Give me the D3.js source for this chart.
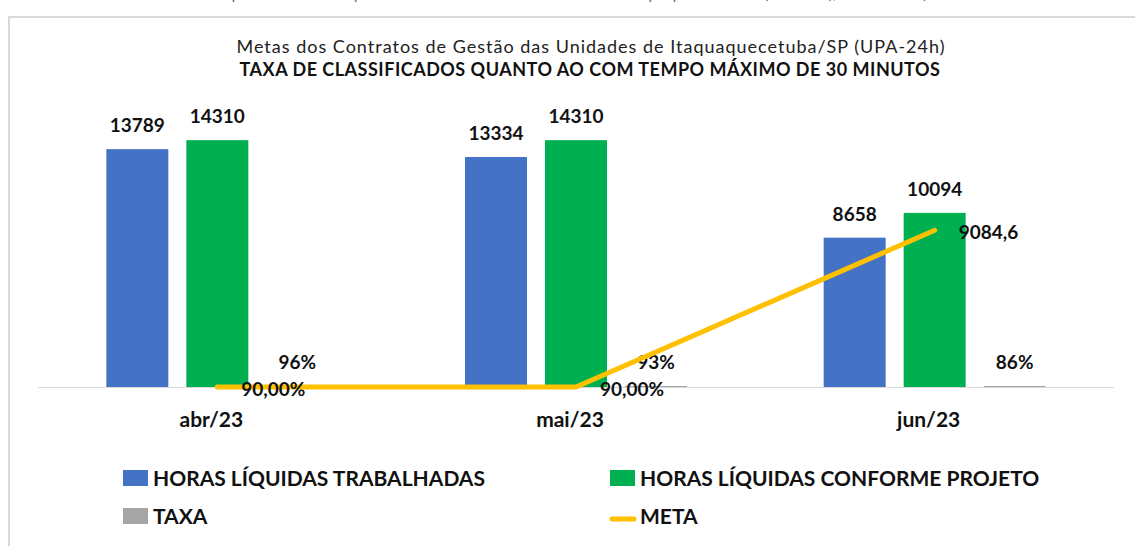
<!DOCTYPE html>
<html>
<head>
<meta charset="utf-8">
<script src="https://cdn.jsdelivr.net/npm/d3@7"></script>
<style>
  body { margin: 0; background: #fff; }
  svg { display: block; font-family: Lato, "Open Sans", sans-serif; }
</style>
</head>
<body>
<svg id="chart" width="1135" height="546"></svg>
<script>
// data
const months = ['abr/23', 'mai/23', 'jun/23'];
const horasTrabalhadas = [13789, 13334, 8658];
const horasProjeto = [14310, 14310, 10094];
const taxa = [0.96, 0.93, 0.86];
const taxaLabels = ['96%', '93%', '86%'];
const meta = [0.9, 0.9, 9084.6];
const metaLabels = ['90,00%', '90,00%', '9084,6'];

const seriesNames = ['trab', 'proj', 'taxa'];
const seriesColors = {trab: '#4472C4', proj: '#00B050', taxa: '#A5A5A5'};
const legendItems = [
  {name: 'HORAS LÍQUIDAS TRABALHADAS', color: '#4472C4', type: 'rect'},
  {name: 'HORAS LÍQUIDAS CONFORME PROJETO', color: '#00B050', type: 'rect'},
  {name: 'TAXA', color: '#A5A5A5', type: 'rect'},
  {name: 'META', color: '#FFC000', type: 'line'}
];

const svg = d3.select('#chart');
const W = 1135, H = 546;
const plot = {left: 38, right: 1114, top: 111, bottom: 387};

// caption line above the frame, cut off by the top edge as in the source
svg.append('text')
   .attr('x', 12)
   .attr('y', -1)
   .attr('font-size', '15px')
   .attr('fill', '#666')
   .text('Gráfico 9 – Taxa de classificados quanto ao com tempo máximo de 30 minutos – Unidades de Itaquaquecetuba/SP (UPA-24h), 30/06/2023)');

// frame
svg.append('path')
   .attr('d', `M9,${H} V17 H${W}`)
   .attr('fill', 'none')
   .attr('stroke', '#d9d9d9')
   .attr('stroke-width', 2);

// titles
svg.append('text')
   .attr('x', 591)
   .attr('y', 53)
   .attr('text-anchor', 'middle')
   .attr('font-size', '18px')
   .attr('letter-spacing', '1px')
   .attr('fill', '#222')
   .text('Metas dos Contratos de Gestão das Unidades de Itaquaquecetuba/SP (UPA-24h)');
svg.append('text')
   .attr('x', 590)
   .attr('y', 76)
   .attr('text-anchor', 'middle')
   .attr('font-size', '18px')
   .attr('letter-spacing', '0.5px')
   .attr('font-weight', 'bold')
   .attr('fill', '#111')
   .text('TAXA DE CLASSIFICADOS  QUANTO AO COM TEMPO MÁXIMO DE 30 MINUTOS');

let x0 = d3.scaleBand()
           .domain(months)
           .range([plot.left, plot.right]);
let x1 = d3.scaleBand()
           .domain(seriesNames)
           .range([-111, 111])
           .paddingInner(0.225);
let y = d3.scaleLinear()
          .domain([0, 16000])
          .range([plot.bottom, plot.top]);

// axis line
svg.append('line')
   .attr('x1', plot.left)
   .attr('x2', plot.right)
   .attr('y1', plot.bottom + 0.5)
   .attr('y2', plot.bottom + 0.5)
   .attr('stroke', '#d9d9d9')
   .attr('stroke-width', 1);

let rows = months.map((m, i) => ({
  month: m,
  values: [
    {key: 'trab', v: horasTrabalhadas[i], label: String(horasTrabalhadas[i])},
    {key: 'proj', v: horasProjeto[i], label: String(horasProjeto[i])},
    {key: 'taxa', v: taxa[i], label: taxaLabels[i]}
  ]
}));

let groups = svg.selectAll('.grp')
   .data(rows)
   .enter()
   .append('g')
   .attr('class', 'grp')
   .attr('transform', d => `translate(${x0(d.month) + x0.bandwidth()/2},0)`);

groups.selectAll('rect')
   .data(d => d.values)
   .enter()
   .append('rect')
   .attr('x', d => x1(d.key))
   .attr('width', x1.bandwidth())
   .attr('y', d => Math.min(y(d.v), plot.bottom - 1))
   .attr('height', d => Math.max(plot.bottom - y(d.v), 1))
   .attr('fill', d => seriesColors[d.key]);

groups.selectAll('.vlabel')
   .data(d => d.values)
   .enter()
   .append('text')
   .attr('class', 'vlabel')
   .attr('x', d => x1(d.key) + x1.bandwidth()/2)
   .attr('y', d => Math.min(y(d.v), plot.bottom - 1) - 17)
   .attr('text-anchor', 'middle')
   .attr('font-size', '19px')
   .attr('font-weight', 'bold')
   .attr('fill', '#111')
   .text(d => d.label);

// category labels
svg.selectAll('.cat')
   .data(months)
   .enter()
   .append('text')
   .attr('class', 'cat')
   .attr('x', d => x0(d) + x0.bandwidth()/2 - 6)
   .attr('y', 427)
   .attr('text-anchor', 'middle')
   .attr('font-size', '21px')
   .attr('font-weight', 'bold')
   .attr('fill', '#111')
   .text(d => d);

// meta line
let metaPts = months.map((m, i) => ({x: x0(m) + x0.bandwidth()/2, y: y(meta[i]), label: metaLabels[i]}));
let lineFunction = d3.line().x(d => d.x).y(d => d.y);
svg.append('path')
   .attr('d', lineFunction(metaPts))
   .attr('fill', 'none')
   .attr('stroke', '#FFC000')
   .attr('stroke-width', 5)
   .attr('stroke-linecap', 'round')
   .attr('stroke-linejoin', 'round');

svg.selectAll('.mlabel')
   .data(metaPts)
   .enter()
   .append('text')
   .attr('class', 'mlabel')
   .attr('x', d => d.x + 24)
   .attr('y', d => d.y + 9)
   .attr('font-size', '19px')
   .attr('font-weight', 'bold')
   .attr('fill', '#111')
   .text(d => d.label);

// legend
let legX = [123, 610];
let legY = [478, 516];
let leg = svg.selectAll('.leg')
   .data(legendItems)
   .enter()
   .append('g')
   .attr('class', 'leg')
   .attr('transform', (d, i) => `translate(${legX[i % 2]},${legY[Math.floor(i / 2)]})`);

leg.filter(d => d.type === 'rect')
   .append('rect')
   .attr('x', 0)
   .attr('y', -8)
   .attr('width', 25)
   .attr('height', 16)
   .attr('fill', d => d.color);
leg.filter(d => d.type === 'line')
   .append('line')
   .attr('x1', 2)
   .attr('x2', 24)
   .attr('y1', 3)
   .attr('y2', 3)
   .attr('stroke', d => d.color)
   .attr('stroke-width', 5)
   .attr('stroke-linecap', 'round');
leg.append('text')
   .attr('x', 30)
   .attr('y', 8)
   .attr('font-size', '21px')
   .attr('font-weight', 'bold')
   .attr('fill', '#111')
   .text(d => d.name);
</script>
</body>
</html>
